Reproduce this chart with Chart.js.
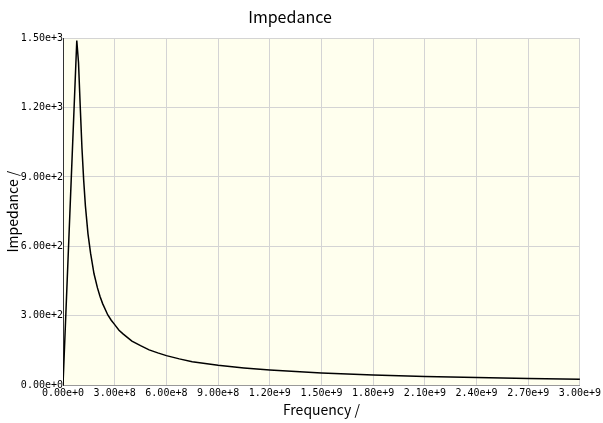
<!DOCTYPE html>
<html>
<head>
<meta charset="utf-8">
<script src="https://cdn.jsdelivr.net/npm/chart.js@4"></script>
<style>
  html, body { margin: 0; padding: 0; background: #fff; }
  #wrap { width: 603px; height: 423px; }
</style>
</head>
<body>
<div id="wrap"><canvas id="chart" width="603" height="423"></canvas></div>
<script>
"use strict";

// ---- data ----
const freqs = [0, 4e7, 8e7, 9e7, 1e8, 1.1e8, 1.2e8, 1.3e8, 1.45e8, 1.6e8, 1.8e8, 2e8, 2.15e8,
  2.3e8, 2.6e8, 2.8e8, 3e8, 3.25e8, 3.5e8, 4e8, 4.5e8, 5e8, 5.5e8, 6e8, 6.75e8, 7.5e8,
  9e8, 1.05e9, 1.2e9, 1.35e9, 1.5e9, 1.8e9, 2.1e9, 2.4e9, 2.7e9, 3e9];
const impedance = [0, 745, 1490, 1395, 1205, 1025, 886, 775, 654, 570, 481, 420, 383,
  352, 303, 280, 261, 237, 220, 190, 170, 152, 139, 127, 113, 101,
  85, 74, 65, 58, 52, 43, 37, 32, 28, 25];

const xTicks = [0, 3e8, 6e8, 9e8, 1.2e9, 1.5e9, 1.8e9, 2.1e9, 2.4e9, 2.7e9, 3e9];
const yTicks = [0, 300, 600, 900, 1200, 1500];

const chartTitle = "Impedance";
const xTitle = "Frequency /";
const yTitle = "Impedance /";

const tickFont = { family: "'DejaVu Sans Mono', monospace", size: 10 };
const labelFont = { family: "'Noto Sans CJK JP', 'Noto Sans', sans-serif", size: 14 };

// plot area background (ivory)
const plotBg = {
  id: "plotBg",
  beforeDraw(chart) {
    const { ctx, chartArea: a } = chart;
    ctx.save();
    ctx.fillStyle = "rgb(255,255,238)";
    ctx.fillRect(a.left, a.top, a.right - a.left, a.bottom - a.top);
    ctx.restore();
  },
};

const points = freqs.map((f, i) => ({ x: f, y: impedance[i] }));

new Chart(document.getElementById("chart"), {
  type: "line",
  data: {
    datasets: [{
      data: points,
      borderColor: "#000",
      borderWidth: 1.5,
      pointRadius: 0,
      tension: 0,
      fill: false,
    }],
  },
  options: {
    responsive: false,
    animation: false,
    layout: { padding: { right: 23 } },
    plugins: {
      legend: { display: false },
      tooltip: { enabled: false },
      title: {
        display: true,
        text: chartTitle,
        color: "#000",
        font: { family: "'Noto Sans CJK JP', 'Noto Sans', sans-serif", size: 16, weight: "normal" },
        padding: { top: 7, bottom: 12 },
      },
    },
    scales: {
      x: {
        type: "linear",
        min: 0,
        max: 3e9,
        afterBuildTicks(s) { s.ticks = xTicks.map(v => ({ value: v })); },
        afterFit(s) { s.height = 38; },
        grid: { color: "#d4d4d4", drawTicks: false },
        border: { color: "#999" },
        ticks: {
          autoSkip: false,
          maxRotation: 0,
          padding: 2,
          color: "#000",
          font: tickFont,
          callback: v => v.toExponential(2),
        },
        title: { display: true, text: xTitle, color: "#000", font: labelFont, padding: { top: 2, bottom: 5 } },
      },
      y: {
        type: "linear",
        min: 0,
        max: 1500,
        afterBuildTicks(s) { s.ticks = yTicks.map(v => ({ value: v })); },
        afterFit(s) { s.width = 63; },
        grid: { color: "#d4d4d4", drawTicks: false },
        border: { color: "#333" },
        ticks: {
          padding: 0,
          color: "#000",
          font: tickFont,
          callback: v => v.toExponential(2),
        },
        title: { display: true, text: yTitle, color: "#000", font: labelFont, padding: { top: 4, bottom: 0 } },
      },
    },
  },
  plugins: [plotBg],
});
</script>
</body>
</html>
